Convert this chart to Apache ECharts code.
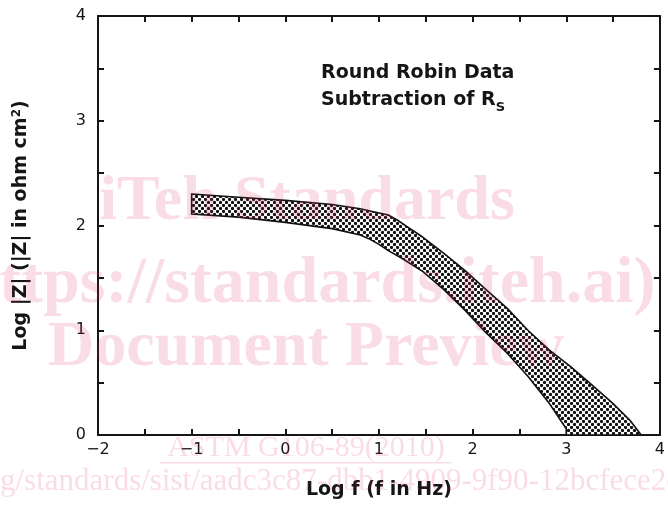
<!DOCTYPE html>
<html>
<head>
<meta charset="UTF-8">
<title>Round Robin Data</title>
<script src="https://cdn.jsdelivr.net/npm/echarts@6/dist/echarts.min.js"></script>
</head>
<body style="margin:0">
<div id="main" style="width:668px;height:506px"></div>
<script>
// upper and lower limit of the round robin band, log f vs log |Z|
var upperX = [-1.0, -0.5, 0.0, 0.5, 0.8, 1.0, 1.1, 1.2, 1.3, 1.45, 1.7, 1.92, 2.14, 2.37, 2.59, 2.82, 3.05, 3.27, 3.5, 3.68, 3.8];
var upperY = [2.30, 2.27, 2.24, 2.20, 2.16, 2.12, 2.10, 2.05, 1.99, 1.90, 1.73, 1.57, 1.39, 1.21, 1.00, 0.81, 0.65, 0.48, 0.30, 0.14, 0.0];
var lowerX = [-1.0, -0.5, 0.0, 0.5, 0.8, 0.9, 1.0, 1.1, 1.24, 1.47, 1.69, 1.92, 2.14, 2.37, 2.59, 2.82, 3.0, 3.0];
var lowerY = [2.11, 2.08, 2.03, 1.97, 1.91, 1.87, 1.82, 1.76, 1.69, 1.56, 1.39, 1.19, 0.98, 0.78, 0.56, 0.30, 0.06, 0.0];

var xTicks = [-2, -1, 0, 1, 2, 3, 4];
var yTicks = [0, 1, 2, 3, 4];

var FONT = 'DejaVu Sans';
var INK = '#151515';
var PINK = 'rgba(215,40,85,0.16)';

// checker dot fill of the band
function dotPattern() {
    var c = document.createElement('canvas');
    c.width = 6;
    c.height = 6;
    var ctx = c.getContext('2d');
    ctx.fillStyle = '#fff';
    ctx.fillRect(0, 0, 6, 6);
    ctx.fillStyle = '#111';
    [[1.5, 1.5], [4.5, 4.5]].forEach(function (p) {
        ctx.beginPath();
        ctx.arc(p[0], p[1], 1.65, 0, Math.PI * 2);
        ctx.fill();
    });
    return c;
}

// polygon: upper curve forward, lower curve back
var bandPts = [];
upperX.forEach(function (x, i) { bandPts.push([x, upperY[i]]); });
for (var i = lowerX.length - 1; i >= 0; i--) bandPts.push([lowerX[i], lowerY[i]]);

function intLabel(list) {
    return function (v) {
        return list.indexOf(v) >= 0 ? String(v).replace('-', '\u2212') : '';
    };
}

function axisBase(min, max) {
    return {
        type: 'value', min: min, max: max, interval: 0.5,
        axisLine: { show: true, onZero: false, lineStyle: { color: INK, width: 2 } },
        axisTick: { show: true, inside: true, length: 6, lineStyle: { color: INK, width: 2 } },
        splitLine: { show: false }
    };
}

var xBottom = Object.assign(axisBase(-2, 4), {
    position: 'bottom',
    name: 'Log f (f in Hz)', nameLocation: 'middle', nameGap: 46,
    nameTextStyle: { fontFamily: FONT, fontSize: 19, fontWeight: 'bold', color: INK },
    axisLabel: { formatter: intLabel(xTicks), fontFamily: FONT, fontSize: 16, color: INK, margin: 7 }
});
var xTop = Object.assign(axisBase(-2, 4), { position: 'top', axisLabel: { show: false } });
var yLeft = Object.assign(axisBase(0, 4), {
    position: 'left',
    name: 'Log |Z| (|Z| in ohm cm{sup|2})', nameLocation: 'middle', nameGap: 66,
    nameTextStyle: {
        fontFamily: FONT, fontSize: 19, fontWeight: 'bold', color: INK,
        rich: { sup: { fontFamily: FONT, fontSize: 12, fontWeight: 'bold', color: INK, verticalAlign: 'bottom', padding: [0, 0, 9, 0] } }
    },
    axisLabel: { formatter: intLabel(yTicks), fontFamily: FONT, fontSize: 16, color: INK, margin: 12 }
});
var yRight = Object.assign(axisBase(0, 4), { position: 'right', axisLabel: { show: false } });

var chart = echarts.init(document.getElementById('main'));

// watermark text, y is the baseline
function wm(text, x, y, size, weight, align) {
    return {
        type: 'text', x: x, y: y - 0.32 * size, z: 100, silent: true,
        style: {
            text: text, fill: PINK, align: align || 'center', verticalAlign: 'middle',
            font: (weight || 'bold') + ' ' + size + 'px "Liberation Serif"'
        }
    };
}

chart.setOption({
    animation: false,
    backgroundColor: '#fff',
    grid: { left: 98, right: 4, top: 16, bottom: 71 },
    xAxis: [xBottom, xTop],
    yAxis: [yLeft, yRight],
    series: [{
        type: 'custom',
        coordinateSystem: 'cartesian2d',
        data: [[0, 0]],
        renderItem: function (params, api) {
            return {
                type: 'polygon',
                shape: { points: bandPts.map(function (p) { return api.coord(p); }) },
                style: { fill: { image: dotPattern(), repeat: 'repeat' }, stroke: '#111', lineWidth: 1.6 }
            };
        }
    }],
    graphic: [
        {
            type: 'text', left: 321, top: 60,
            style: {
                text: 'Round Robin Data\nSubtraction of R{sub|S}',
                fontFamily: FONT, fontSize: 19, fontWeight: 'bold', fill: INK, lineHeight: 27,
                rich: { sub: { fontFamily: FONT, fontSize: 13, fontWeight: 'bold', fill: INK, lineHeight: 15, verticalAlign: 'bottom' } }
            }
        },
        wm('iTeh Standards', 307, 223, 64),
        wm('https://standards.iteh.ai)', 309, 306, 66),
        wm('Document Preview', 306, 369, 64),
        wm('ASTM G106-89(2010)', 306, 458, 30, 'normal'),
        { type: 'rect', z: 100, silent: true, shape: { x: 160, y: 462, width: 292, height: 1.5 }, style: { fill: PINK } },
        wm('g/standards/sist/aadc3c87-dbb1-4909-9f90-12bcfece2e7c', 0, 492, 31, 'normal', 'left')
    ]
});
</script>
</body>
</html>
